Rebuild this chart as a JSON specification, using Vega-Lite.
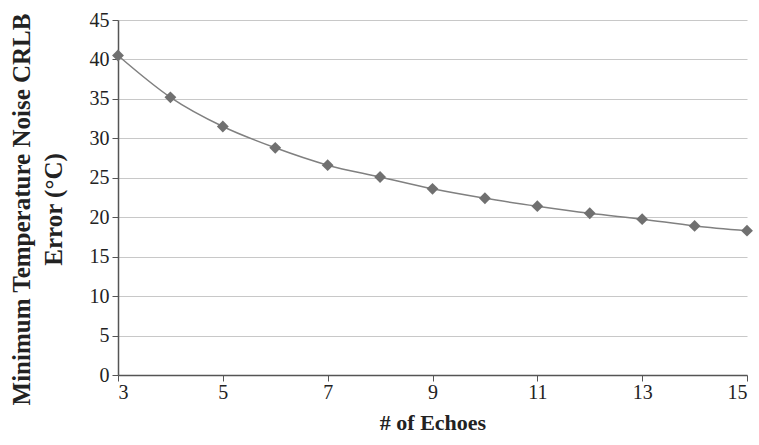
{
  "$schema": "https://vega.github.io/schema/vega-lite/v6.json",
  "width": 629,
  "height": 355,
  "autosize": {"type": "none"},
  "padding": {"left": 118, "top": 20, "right": 12, "bottom": 70},
  "background": "white",
  "config": {
    "view": {"stroke": null},
    "font": "Liberation Serif"
  },
  "data": {
    "values": [
      {"echoes": 3, "error": 40.5},
      {"echoes": 4, "error": 35.2},
      {"echoes": 5, "error": 31.5},
      {"echoes": 6, "error": 28.8},
      {"echoes": 7, "error": 26.6},
      {"echoes": 8, "error": 25.1},
      {"echoes": 9, "error": 23.6},
      {"echoes": 10, "error": 22.4},
      {"echoes": 11, "error": 21.4},
      {"echoes": 12, "error": 20.5},
      {"echoes": 13, "error": 19.75},
      {"echoes": 14, "error": 18.9},
      {"echoes": 15, "error": 18.3}
    ]
  },
  "encoding": {
    "x": {
      "field": "echoes",
      "type": "quantitative",
      "scale": {"domain": [3, 15], "nice": false, "zero": false},
      "axis": {
        "title": "# of Echoes",
        "values": [3, 5, 7, 9, 11, 13, 15],
        "grid": false,
        "domainColor": "#555",
        "domainWidth": 1.5,
        "tickColor": "#555",
        "tickSize": 6,
        "labelFont": "Liberation Serif",
        "labelFontSize": 20,
        "labelColor": "#222",
        "labelPadding": 1,
        "titleFont": "Liberation Serif",
        "titleFontSize": 22,
        "titleFontWeight": "bold",
        "titleColor": "#222",
        "titlePadding": 10
      }
    },
    "y": {
      "field": "error",
      "type": "quantitative",
      "scale": {"domain": [0, 45], "nice": false},
      "axis": {
        "title": ["Minimum  Temperature  Noise CRLB", "Error  (°C)"],
        "values": [0, 5, 10, 15, 20, 25, 30, 35, 40, 45],
        "grid": true,
        "gridColor": "#c8c8c8",
        "gridWidth": 1.2,
        "domainColor": "#555",
        "domainWidth": 1.5,
        "tickColor": "#555",
        "tickSize": 6,
        "labelFont": "Liberation Serif",
        "labelFontSize": 20,
        "labelColor": "#222",
        "labelPadding": 3,
        "titleFont": "Liberation Serif",
        "titleFontSize": 25,
        "titleFontWeight": "bold",
        "titleColor": "#222",
        "titlePadding": 23,
        "titleLineHeight": 32,
        "titleY": 189
      }
    }
  },
  "layer": [
    {
      "mark": {"type": "line", "interpolate": "monotone", "color": "#808080", "strokeWidth": 1.5}
    },
    {
      "mark": {"type": "point", "shape": "diamond", "filled": true, "color": "#707070", "size": 140, "opacity": 1}
    }
  ]
}
